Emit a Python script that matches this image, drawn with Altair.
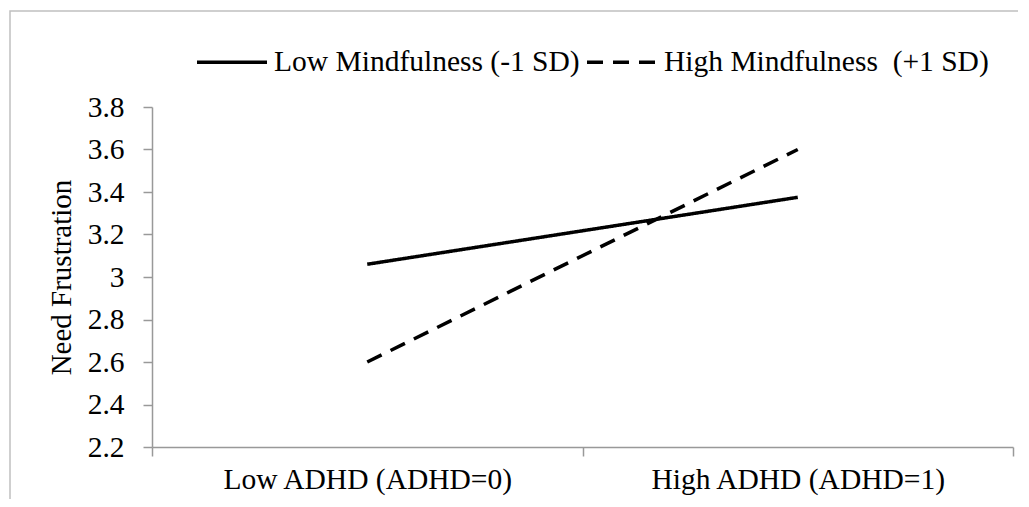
import altair as alt
import pandas as pd

adhd_levels = ["Low ADHD (ADHD=0)", "High ADHD (ADHD=1)"]
series_names = ["Low Mindfulness (-1 SD)", "High Mindfulness\u00a0 (+1 SD)"]
low_mind = [3.06, 3.375]
high_mind = [2.60, 3.60]
y_ticks = [2.2, 2.4, 2.6, 2.8, 3.0, 3.2, 3.4, 3.6, 3.8]

rows = []
for name, vals in zip(series_names, [low_mind, high_mind]):
    for lvl, v in zip(adhd_levels, vals):
        rows.append({"ADHD": lvl, "Mindfulness": name, "Need Frustration": v})
df = pd.DataFrame(rows)

FONT = "Liberation Serif"
AX = "#999999"
W, H = 1030, 510

chart = alt.Chart(df).mark_line(color="black", strokeWidth=3.5).encode(
    x=alt.X(
        "ADHD:N",
        sort=adhd_levels,
        scale=alt.Scale(type="band", range=[142, 1003], paddingInner=0, paddingOuter=0),
        axis=alt.Axis(
            title=None, labelAngle=0, tickBand="extent", offset=-(H - 436),
            labelFont=FONT, labelFontSize=29.5, labelColor="black", labelPadding=9,
            tickSize=9, tickColor=AX, tickWidth=1.5, domainColor=AX, domainWidth=1.5,
            grid=False, labelLimit=0,
        ),
    ),
    y=alt.Y(
        "Need Frustration:Q",
        scale=alt.Scale(domain=[2.2, 3.8], range=[436, 96], nice=False, zero=False),
        axis=alt.Axis(
            title="Need Frustration", values=y_ticks, format="~g", offset=-142,
            labelFont=FONT, labelFontSize=29.5, labelColor="black", labelPadding=19,
            titleFont=FONT, titleFontSize=29, titleColor="black", titleFontWeight="normal",
            titlePadding=11,
            tickSize=9, tickColor=AX, tickWidth=1.5, domainColor=AX, domainWidth=1.5,
            grid=False,
        ),
    ),
    strokeDash=alt.StrokeDash(
        "Mindfulness:N",
        sort=series_names,
        scale=alt.Scale(domain=series_names, range=[[1, 0], [16, 10]]),
        legend=alt.Legend(
            title=None, orient="none", legendX=185, legendY=14, direction="horizontal",
            columns=2, symbolType="stroke", symbolSize=4900, symbolStrokeWidth=3.5,
            symbolStrokeColor="black", labelFont=FONT, labelFontSize=29.5,
            labelColor="black", labelOffset=5, columnPadding=0, labelLimit=0,
        ),
    ),
).properties(
    width=W, height=H,
    autosize=alt.AutoSizeParams(type="none"),
    padding={"left": 2, "top": 3, "right": -22, "bottom": -22},
).configure_view(
    stroke="#c0c0c0", strokeWidth=1.5
)

chart.save("out.html", embed_options={"renderer": "svg", "actions": False})
